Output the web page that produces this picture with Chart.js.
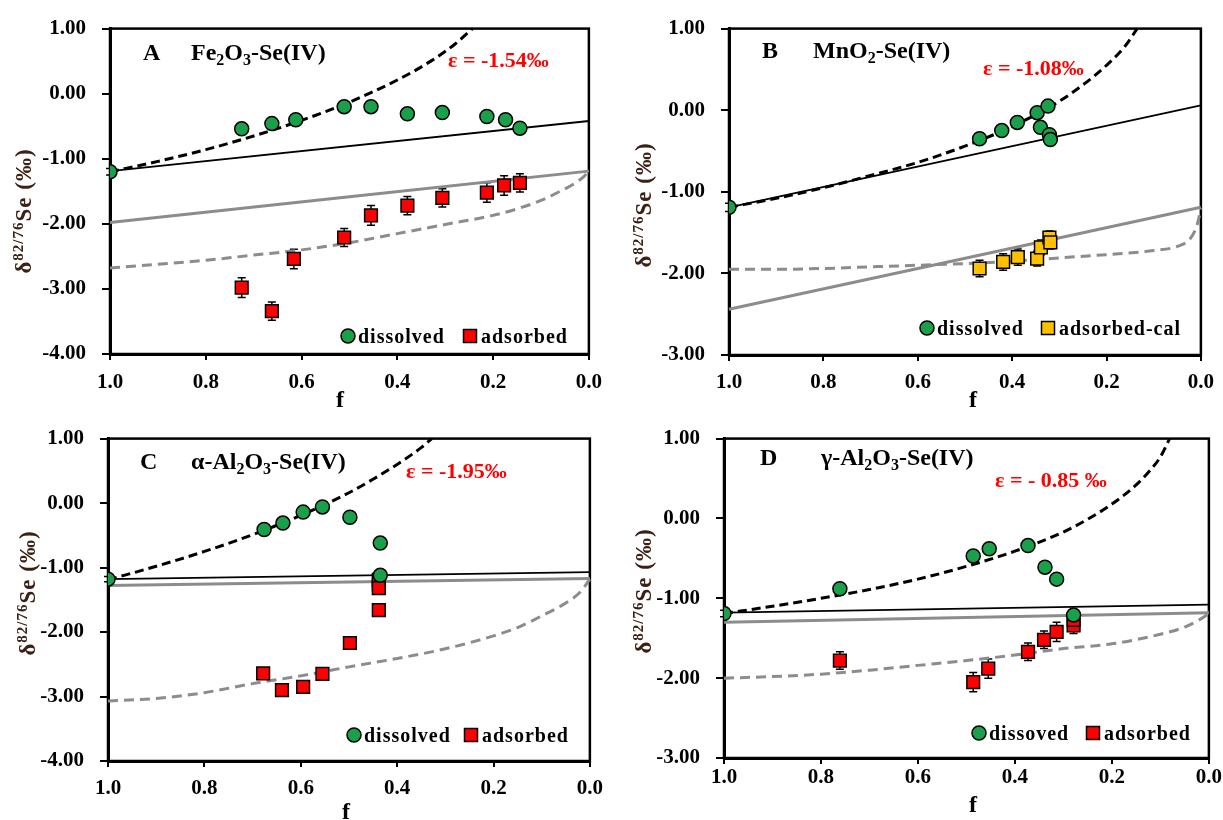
<!DOCTYPE html>
<html>
<head>
<meta charset="UTF-8" />
<title>Se(IV) adsorption isotope fractionation</title>
<script src="https://cdn.jsdelivr.net/npm/chart.js@4.4.0/dist/chart.umd.min.js"></script>
<style>
  body { margin: 0; background: #fff; }
  #wrap { position: relative; width: 1223px; height: 820px; overflow: hidden; }
  canvas { position: absolute; }
</style>
</head>
<body>
<div id="wrap">
  <canvas id="chartA" width="612" height="410" style="left:0;top:0"></canvas>
  <canvas id="chartB" width="611" height="410" style="left:612px;top:0"></canvas>
  <canvas id="chartC" width="612" height="410" style="left:0;top:410px"></canvas>
  <canvas id="chartD" width="611" height="410" style="left:612px;top:410px"></canvas>
</div>
<script>
// ---- data (f = fraction remaining, delta in permil) ----
const fEnds = [1.0, 0.0];
const xTicks = [1.0, 0.8, 0.6, 0.4, 0.2, 0.0];

// A  Fe2O3-Se(IV)
const fA_dis = [1.0, 0.725, 0.662, 0.612, 0.511, 0.455, 0.379, 0.306, 0.213, 0.174, 0.144];
const dA_dis = [-1.20, -0.54, -0.46, -0.40, -0.20, -0.20, -0.31, -0.29, -0.35, -0.40, -0.53];
const eA_dis = [0.05, 0.08, 0.08, 0.08, 0.08, 0.06, 0.08, 0.06, 0.08, 0.08, 0.08];
const fA_ads = [0.725, 0.662, 0.616, 0.511, 0.455, 0.379, 0.306, 0.213, 0.177, 0.144];
const dA_ads = [-2.98, -3.34, -2.54, -2.21, -1.87, -1.72, -1.60, -1.52, -1.41, -1.37];
const eA_ads = [0.15, 0.14, 0.15, 0.14, 0.15, 0.14, 0.14, 0.15, 0.15, 0.14];
const A_eqDis = [-1.19, -0.42];
const A_eqAds = [-1.98, -1.19];
const fA_rayDis = [1.0, 0.9, 0.8, 0.7, 0.6, 0.5, 0.4, 0.33, 0.28, 0.243];
const A_rayDis = [-1.20, -1.04, -0.86, -0.65, -0.41, -0.13, 0.21, 0.50, 0.76, 1.0];
const fA_rayAds = [1.0, 0.9, 0.8, 0.7, 0.6, 0.5, 0.4, 0.3, 0.2, 0.15, 0.1, 0.06, 0.03, 0.01, 0.0];
const A_rayAds = [-2.68, -2.62, -2.56, -2.48, -2.40, -2.29, -2.15, -2.01, -1.87, -1.77, -1.64, -1.50, -1.38, -1.27, -1.19];

// B  MnO2-Se(IV)
const fB_dis = [1.0, 0.469, 0.422, 0.389, 0.347, 0.324, 0.340, 0.321, 0.319];
const dB_dis = [-1.19, -0.35, -0.25, -0.15, -0.03, 0.05, -0.21, -0.30, -0.36];
const eB_dis = [0.05, 0.07, 0.06, 0.07, 0.06, 0.05, 0.06, 0.06, 0.06];
const fB_ads = [0.469, 0.419, 0.388, 0.347, 0.339, 0.321, 0.319];
const dB_ads = [-1.94, -1.86, -1.80, -1.82, -1.68, -1.56, -1.62];
const eB_ads = [0.10, 0.10, 0.10, 0.09, 0.09, 0.08, 0.08];
const B_eqDis = [-1.19, 0.06];
const B_eqAds = [-2.44, -1.19];
const fB_rayDis = [1.0, 0.9, 0.8, 0.7, 0.6, 0.5, 0.4, 0.3, 0.25, 0.2, 0.16, 0.135];
const B_rayDis = [-1.19, -1.08, -0.95, -0.80, -0.64, -0.44, -0.20, 0.11, 0.31, 0.55, 0.79, 1.0];
const fB_rayAds = [1.0, 0.9, 0.8, 0.7, 0.6, 0.5, 0.4, 0.3, 0.2, 0.1, 0.05, 0.025, 0.012, 0.005, 0.0];
const B_rayAds = [-1.95, -1.95, -1.94, -1.92, -1.90, -1.88, -1.85, -1.81, -1.77, -1.72, -1.67, -1.59, -1.47, -1.34, -1.20];

// C  alpha-Al2O3-Se(IV)
const fC_dis = [1.0, 0.676, 0.637, 0.595, 0.555, 0.498, 0.435, 0.435];
const dC_dis = [-1.18, -0.41, -0.31, -0.14, -0.06, -0.22, -0.62, -1.12];
const eC_dis = [0.04, 0.05, 0.05, 0.05, 0.05, 0.05, 0.05, 0.05];
const fC_ads = [0.678, 0.639, 0.595, 0.555, 0.498, 0.438, 0.438, 0.438, 0.438];
const dC_ads = [-2.64, -2.90, -2.85, -2.65, -2.17, -1.66, -1.19, -1.26, -1.32];
const eC_ads = [0.08, 0.08, 0.08, 0.08, 0.08, 0.08, 0.06, 0.06, 0.06];
const C_eqDis = [-1.18, -1.07];
const C_eqAds = [-1.28, -1.17];
const fC_rayDis = [1.0, 0.9, 0.8, 0.7, 0.6, 0.5, 0.45, 0.4, 0.35, 0.328];
const C_rayDis = [-1.19, -0.98, -0.75, -0.49, -0.19, 0.16, 0.37, 0.60, 0.86, 1.0];
const fC_rayAds = [1.0, 0.9, 0.8, 0.7, 0.6, 0.5, 0.4, 0.3, 0.2, 0.15, 0.1, 0.05, 0.02, 0.0];
const C_rayAds = [-3.07, -3.03, -2.94, -2.80, -2.68, -2.54, -2.41, -2.26, -2.06, -1.93, -1.75, -1.55, -1.38, -1.18];

// D  gamma-Al2O3-Se(IV)
const fD_dis = [1.0, 0.761, 0.486, 0.453, 0.373, 0.338, 0.314, 0.279];
const dD_dis = [-1.19, -0.88, -0.47, -0.38, -0.34, -0.61, -0.76, -1.21];
const eD_dis = [0.04, 0.07, 0.06, 0.06, 0.06, 0.06, 0.05, 0.06];
const fD_ads = [0.761, 0.486, 0.455, 0.373, 0.340, 0.314, 0.279, 0.279];
const dD_ads = [-1.78, -2.05, -1.88, -1.67, -1.52, -1.42, -1.34, -1.27];
const eD_ads = [0.11, 0.12, 0.12, 0.11, 0.11, 0.12, 0.10, 0.10];
const D_eqDis = [-1.18, -1.08];
const D_eqAds = [-1.30, -1.18];
const fD_rayDis = [1.0, 0.9, 0.8, 0.7, 0.6, 0.5, 0.4, 0.3, 0.25, 0.2, 0.15, 0.12, 0.1, 0.081];
const D_rayDis = [-1.19, -1.10, -1.00, -0.89, -0.76, -0.60, -0.41, -0.17, -0.01, 0.18, 0.42, 0.61, 0.77, 1.0];
const fD_rayAds = [1.0, 0.9, 0.8, 0.7, 0.6, 0.5, 0.4, 0.3, 0.2, 0.1, 0.05, 0.02, 0.0];
const D_rayAds = [-2.00, -1.98, -1.95, -1.90, -1.84, -1.78, -1.71, -1.63, -1.57, -1.45, -1.36, -1.27, -1.19];

const GREEN = "#1aa04a";
const RED = "#ff0000";
const YELLOW = "#ffc000";
const GRAY = "#8c8c8c";
const FONT = '"Liberation Serif", "Times New Roman", serif';

function toPoints(xs, ys) {
  return xs.map((x, i) => ({ x, y: ys[i] }));
}

function markerSet(label, xs, ys, errs, style, color, radius) {
  return {
    label,
    data: toPoints(xs, ys),
    errors: errs,
    showLine: false,
    pointStyle: style,
    pointRadius: radius,
    pointHoverRadius: radius,
    pointBackgroundColor: color,
    pointBorderColor: "#000",
    pointBorderWidth: 1.5,
  };
}

function lineSet(xs, ys, color, width, dash) {
  return {
    data: toPoints(xs, ys),
    showLine: true,
    borderColor: color,
    borderWidth: width,
    borderDash: dash || [],
    pointRadius: 0,
    pointHoverRadius: 0,
    cubicInterpolationMode: "monotone",
    fill: false,
    clip: 3,
  };
}

// frame round the plot area + error bars, drawn under the markers
const frameAndErrors = {
  id: "frameAndErrors",
  beforeDatasetsDraw(chart) {
    const { ctx, chartArea: a } = chart;
    const ys = chart.scales.y;
    ctx.save();
    ctx.strokeStyle = "#000";
    ctx.lineWidth = 2.5;
    ctx.strokeRect(a.left, a.top, a.right - a.left, a.bottom - a.top);
    ctx.lineWidth = 1.5;
    chart.data.datasets.forEach((ds, i) => {
      if (!ds.errors) return;
      chart.getDatasetMeta(i).data.forEach((pt, j) => {
        const v = ds.data[j].y;
        const e = ds.errors[j];
        const top = ys.getPixelForValue(v + e);
        const bot = ys.getPixelForValue(v - e);
        ctx.beginPath();
        ctx.moveTo(pt.x, top);
        ctx.lineTo(pt.x, bot);
        ctx.moveTo(pt.x - 4, top);
        ctx.lineTo(pt.x + 4, top);
        ctx.moveTo(pt.x - 4, bot);
        ctx.lineTo(pt.x + 4, bot);
        ctx.stroke();
      });
    });
    ctx.restore();
  },
};

function drawRich(ctx, x, y, parts, size, center) {
  const fontFor = (m) => `bold ${m === "n" ? size : Math.round(size * 0.66)}px ${FONT}`;
  let total = 0;
  parts.forEach(([t, m]) => {
    ctx.font = fontFor(m);
    total += ctx.measureText(t).width;
  });
  let cx = center ? x - total / 2 : x;
  parts.forEach(([t, m]) => {
    ctx.font = fontFor(m);
    const dy = m === "sub" ? size * 0.22 : m === "sup" ? -size * 0.36 : 0;
    ctx.fillText(t, cx, y + dy);
    cx += ctx.measureText(t).width;
  });
}

// panel label, formula, epsilon, legend and axis titles
const panelText = {
  id: "panelText",
  afterDraw(chart, args, o) {
    const ctx = chart.ctx;
    ctx.save();
    ctx.textAlign = "left";
    ctx.textBaseline = "alphabetic";
    ctx.fillStyle = "#000";
    ctx.font = `bold 24px ${FONT}`;
    ctx.fillText(o.letter, o.letterX, o.titleY);
    drawRich(ctx, o.formulaX, o.titleY, o.formula, 24, false);

    ctx.fillStyle = RED;
    ctx.font = `bold 22px ${FONT}`;
    ctx.fillText(o.eps, o.epsX, o.epsY);

    // legend
    ctx.fillStyle = GREEN;
    ctx.strokeStyle = "#000";
    ctx.lineWidth = 1.5;
    ctx.beginPath();
    ctx.arc(o.legDis, o.legY, 7, 0, Math.PI * 2);
    ctx.fill();
    ctx.stroke();
    ctx.fillStyle = o.adsColor;
    ctx.fillRect(o.legAds - 6.5, o.legY - 6.5, 13, 13);
    ctx.strokeRect(o.legAds - 6.5, o.legY - 6.5, 13, 13);
    ctx.fillStyle = "#000";
    ctx.font = `bold 20px ${FONT}`;
    ctx.letterSpacing = "1px";
    ctx.fillText(o.disText, o.legDis + 10, o.legY + 7);
    ctx.fillText(o.adsText, o.legAds + 11, o.legY + 7);
    ctx.letterSpacing = "0px";

    // x title
    ctx.font = `bold 24px ${FONT}`;
    ctx.textAlign = "center";
    ctx.fillText("f", o.fX, o.fY);

    // y title
    ctx.translate(o.yTitleX, o.yTitleY);
    ctx.rotate(-Math.PI / 2);
    ctx.textAlign = "left";
    ctx.fillStyle = "#3a2015";
    ctx.letterSpacing = "1px";
    drawRich(ctx, 0, 8, [["δ", "n"], ["82/76", "sup"], ["Se (‰)", "n"]], 23, true);
    ctx.restore();
  },
};

function buildChart(p, datasets) {
  const tickFont = { family: FONT, size: 21, weight: "bold" };
  return new Chart(document.getElementById(p.canvas), {
    type: "scatter",
    data: { datasets },
    plugins: [frameAndErrors, panelText],
    options: {
      responsive: false,
      animation: false,
      events: [],
      layout: { padding: { left: 0, top: p.top, right: p.right, bottom: 0 } },
      plugins: {
        legend: { display: false },
        tooltip: { enabled: false },
        panelText: p.text,
      },
      scales: {
        x: {
          type: "linear",
          reverse: true,
          min: 0,
          max: 1,
          afterBuildTicks: (s) => {
            s.ticks = xTicks.map((v) => ({ value: v }));
          },
          afterFit: (s) => {
            s.height = p.xHeight;
          },
          ticks: {
            font: tickFont,
            color: "#000",
            padding: p.xPad,
            maxRotation: 0,
            callback: (v) => Number(v).toFixed(1),
          },
          grid: { display: true, drawOnChartArea: false, drawTicks: true, tickLength: 6, color: "#000", lineWidth: 2 },
          border: { display: true, color: "#000", width: 3 },
        },
        y: {
          min: p.yMin,
          max: 1,
          afterFit: (s) => {
            s.width = p.left;
          },
          ticks: {
            stepSize: 1,
            font: tickFont,
            color: "#000",
            padding: 16,
            callback: (v) => Number(v).toFixed(2),
          },
          grid: { display: true, drawOnChartArea: false, drawTicks: true, tickLength: 8, color: "#000", lineWidth: 2 },
          border: { display: true, color: "#000", width: 3 },
        },
      },
    },
  });
}

function panelSets(adsLabel, adsColor, fDis, dDis, eDis, fAds, dAds, eAds, eqDis, eqAds, fRD, rD, fRA, rA) {
  return [
    markerSet("dissolved", fDis, dDis, eDis, "circle", GREEN, 7),
    markerSet(adsLabel, fAds, dAds, eAds, "rect", adsColor, 9),
    lineSet(fEnds, eqDis, "#000", 1.8),
    lineSet(fRD, rD, "#000", 3, [9, 5]),
    lineSet(fEnds, eqAds, GRAY, 3),
    lineSet(fRA, rA, GRAY, 3, [10, 6]),
  ];
}

buildChart(
  { canvas: "chartA", yMin: -4, left: 110, top: 21, right: 17, xHeight: 56, xPad: 10,
    text: { letter: "A", letterX: 143, formulaX: 191, titleY: 60,
      formula: [["Fe", "n"], ["2", "sub"], ["O", "n"], ["3", "sub"], ["-Se(IV)", "n"]],
      eps: "ε = -1.54‰", epsX: 448, epsY: 67,
      legY: 336, legDis: 348, legAds: 470, disText: "dissolved", adsText: "adsorbed", adsColor: RED,
      fX: 340, fY: 407, yTitleX: 23, yTitleY: 211 } },
  panelSets("adsorbed", RED, fA_dis, dA_dis, eA_dis, fA_ads, dA_ads, eA_ads, A_eqDis, A_eqAds, fA_rayDis, A_rayDis, fA_rayAds, A_rayAds)
);

buildChart(
  { canvas: "chartB", yMin: -3, left: 117, top: 22, right: 15, xHeight: 55, xPad: 9,
    text: { letter: "B", letterX: 150, formulaX: 201, titleY: 58,
      formula: [["MnO", "n"], ["2", "sub"], ["-Se(IV)", "n"]],
      eps: "ε = -1.08‰", epsX: 371, epsY: 75,
      legY: 328, legDis: 315, legAds: 436, disText: "dissolved", adsText: "adsorbed-cal", adsColor: YELLOW,
      fX: 361, fY: 407, yTitleX: 31, yTitleY: 205 } },
  panelSets("adsorbed-cal", YELLOW, fB_dis, dB_dis, eB_dis, fB_ads, dB_ads, eB_ads, B_eqDis, B_eqAds, fB_rayDis, B_rayDis, fB_rayAds, B_rayAds)
);

buildChart(
  { canvas: "chartC", yMin: -4, left: 108, top: 19, right: 17, xHeight: 59, xPad: 9,
    text: { letter: "C", letterX: 140, formulaX: 191, titleY: 59,
      formula: [["α-Al", "n"], ["2", "sub"], ["O", "n"], ["3", "sub"], ["-Se(IV)", "n"]],
      eps: "ε = -1.95‰", epsX: 406, epsY: 68,
      legY: 325, legDis: 354, legAds: 471, disText: "dissolved", adsText: "adsorbed", adsColor: RED,
      fX: 346, fY: 409, yTitleX: 27, yTitleY: 183 } },
  panelSets("adsorbed", RED, fC_dis, dC_dis, eC_dis, fC_ads, dC_ads, eC_ads, C_eqDis, C_eqAds, fC_rayDis, C_rayDis, fC_rayAds, C_rayAds)
);

buildChart(
  { canvas: "chartD", yMin: -3, left: 112, top: 15, right: 13, xHeight: 62, xPad: 1,
    text: { letter: "D", letterX: 148, formulaX: 209, titleY: 55,
      formula: [["γ-Al", "n"], ["2", "sub"], ["O", "n"], ["3", "sub"], ["-Se(IV)", "n"]],
      eps: "ε = - 0.85 ‰", epsX: 383, epsY: 77,
      legY: 323, legDis: 367, legAds: 481, disText: "dissoved", adsText: "adsorbed", adsColor: RED,
      fX: 361, fY: 402, yTitleX: 31, yTitleY: 181 } },
  panelSets("adsorbed", RED, fD_dis, dD_dis, eD_dis, fD_ads, dD_ads, eD_ads, D_eqDis, D_eqAds, fD_rayDis, D_rayDis, fD_rayAds, D_rayAds)
);
</script>
</body>
</html>
